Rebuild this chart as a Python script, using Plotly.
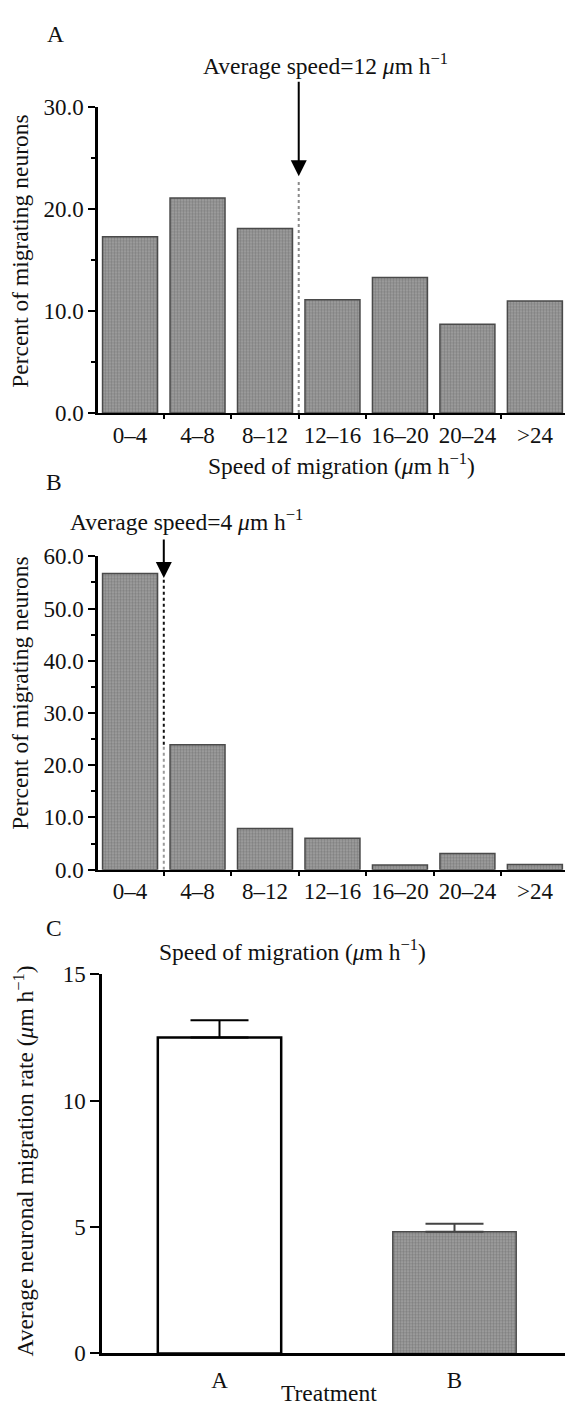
import plotly.graph_objects as go

# ---------------- data ----------------
speed_bins = ["0\u20134", "4\u20138", "8\u201312", "12\u201316", "16\u201320", "20\u201324", ">24"]
percent_A = [17.3, 21.1, 18.1, 11.1, 13.3, 8.7, 11.0]
percent_B = [56.7, 23.9, 7.9, 6.0, 0.9, 3.1, 1.0]
avg_speed_A = 12
avg_speed_B = 4
bin_width = 4

treatments = ["A", "B"]
rate_mean = [12.5, 4.81]
rate_err = [0.68, 0.32]

# ---------------- layout helpers ----------------
# the html page has an 8px body margin; the figure is sized to fill the rest
OFF = 8
W, H = 573 - OFF, 1417 - OFF
def px_x(p):
    return (p - OFF) / W
def px_y(p):
    return 1 - (p - OFF) / H

FONT = "Liberation Serif, Times New Roman, serif"
FS = 23.5
TFS = 23
GRAY_BG = "#a2a2a2"
GRAY_FG = "#5e5e5e"
GRAY_EDGE = "#4a4a4a"
UNIT = "<i>\u03bc</i>m h<sup>\u22121</sup>"

idx = list(range(len(speed_bins)))

fig = go.Figure()

def hist_trace(vals, xa, ya):
    return go.Bar(
        x=idx, y=vals, width=0.815, xaxis=xa, yaxis=ya,
        marker=dict(color=GRAY_BG, line=dict(color=GRAY_EDGE, width=1.5),
                    pattern=dict(shape=".", size=3, solidity=0.5,
                                 fgcolor=GRAY_FG, bgcolor=GRAY_BG)),
        hoverinfo="skip",
    )

fig.add_trace(hist_trace(percent_A, "x", "y"))
fig.add_trace(hist_trace(percent_B, "x2", "y2"))

# panel C bars
fig.add_trace(go.Bar(
    x=[0], y=[rate_mean[0]], width=0.525, xaxis="x3", yaxis="y3",
    marker=dict(color="white", line=dict(color="black", width=2.5)),
    error_y=dict(type="data", symmetric=False, array=[rate_err[0]], arrayminus=[0],
                 color="black", thickness=2, width=29),
))
fig.add_trace(go.Bar(
    x=[1], y=[rate_mean[1]], width=0.525, xaxis="x3", yaxis="y3",
    marker=dict(color=GRAY_BG, line=dict(color=GRAY_EDGE, width=1.5),
                pattern=dict(shape=".", size=3, solidity=0.5,
                             fgcolor=GRAY_FG, bgcolor=GRAY_BG)),
    error_y=dict(type="data", symmetric=False, array=[rate_err[1]], arrayminus=[0],
                 color="#444444", thickness=2, width=29),
))

tickfont = dict(family=FONT, size=TFS, color="#111")

def hist_xaxis(anchor):
    return dict(
        domain=[px_x(98), px_x(572)], range=[-0.475, 6.55], anchor=anchor,
        tickmode="array", tickvals=idx, ticktext=speed_bins, ticks="",
        showline=True, linecolor="black", linewidth=2,
        showgrid=False, zeroline=False, tickfont=tickfont,
        minor=dict(tickmode="array", tickvals=[i + 0.5 for i in idx],
                   ticks="outside", ticklen=4, tickwidth=1.5, tickcolor="black"),
    )

def yaxis(dom, rng, dtick, fmt, anchor, minor=True, ticklen=7):
    d = dict(
        domain=dom, range=rng, anchor=anchor, dtick=dtick, tickformat=fmt,
        ticks="outside", ticklen=ticklen, tickwidth=2, tickcolor="black",
        showline=True, linecolor="black", linewidth=2.5,
        showgrid=False, zeroline=False, tickfont=tickfont,
    )
    if minor:
        d["minor"] = dict(dtick=dtick / 2, ticks="outside", ticklen=4,
                          tickwidth=1.5, tickcolor="black")
    return d

fig.update_layout(
    width=W, height=H, margin=dict(l=0, r=0, t=0, b=0),
    paper_bgcolor="white", plot_bgcolor="white",
    showlegend=False, barmode="overlay",
    font=dict(family=FONT, size=FS, color="#111"),
    xaxis=hist_xaxis("y"),
    yaxis=yaxis([px_y(408), px_y(97)], [0, 30], 10, ".1f", "x"),
    xaxis2=hist_xaxis("y2"),
    yaxis2=yaxis([px_y(873), px_y(554)], [0, 60], 10, ".1f", "x2"),
    xaxis3=dict(
        domain=[px_x(102), px_x(572)], range=[-0.5, 1.5], anchor="y3",
        tickmode="array", tickvals=[0, 1], ticktext=treatments, ticks="",
        ticklabelstandoff=4,
        showline=True, linecolor="black", linewidth=2.5,
        showgrid=False, zeroline=False, tickfont=tickfont,
        minor=dict(tickmode="array", tickvals=[1.5], ticks="outside", ticklen=9,
                   tickwidth=2, tickcolor="black"),
    ),
    yaxis3=yaxis([px_y(1365.5), px_y(979.5)], [0, 15], 5, "d", "x3", minor=False, ticklen=9),
)

# average-speed markers (dotted line + arrow)
ax_A = avg_speed_A / bin_width - 0.5
ax_B = avg_speed_B / bin_width - 0.5

shapes = [
    dict(type="line", xref="x", yref="y", x0=ax_A, x1=ax_A, y0=0, y1=22.9,
         line=dict(color="#8a8a8a", width=2, dash="dot")),
    dict(type="line", xref="x2", yref="y2", x0=ax_B, x1=ax_B, y0=0, y1=percent_B[1],
         line=dict(color="#9a9a9a", width=2, dash="dot")),
    dict(type="line", xref="x2", yref="y2", x0=ax_B, x1=ax_B, y0=percent_B[1], y1=55.5,
         line=dict(color="#111", width=2, dash="dot")),
]
fig.update_layout(shapes=shapes)

def note(x, y, text, **kw):
    d = dict(x=px_x(x), y=px_y(y), xref="paper", yref="paper", text=text,
             showarrow=False, xanchor="center", yanchor="middle")
    d.update(kw)
    return d

annotations = [
    # arrows
    dict(x=ax_A, y=px_y(167), xref="x", yref="paper", text="", showarrow=True,
         ax=0, ay=-96, arrowhead=2, arrowsize=1.6, arrowwidth=2, arrowcolor="black"),
    dict(x=ax_B, y=px_y(576), xref="x2", yref="paper", text="", showarrow=True,
         ax=0, ay=-40, arrowhead=2, arrowsize=1.6, arrowwidth=2, arrowcolor="black"),
    # average speed text
    note(325, 53, "Average speed=%d %s" % (avg_speed_A, UNIT)),
    note(186, 517, "Average speed=%d %s" % (avg_speed_B, UNIT)),
    # panel letters
    note(55, 22, "A"),
    note(54, 478, "B"),
    note(54, 932, "C"),
    # y-axis titles
    note(20, 244, "Percent of migrating neurons", textangle=-90),
    note(20, 694, "Percent of migrating neurons", textangle=-90),
    note(24, 1170, "Average neuronal migration rate (%s)" % UNIT, textangle=-90),
    # x-axis titles
    note(341, 460, "Speed of migration (%s)" % UNIT),
    note(292, 955, "Speed of migration (%s)" % UNIT),
    note(329, 1406, "Treatment"),
]
fig.update_layout(annotations=annotations)

fig.write_html("out.html")
